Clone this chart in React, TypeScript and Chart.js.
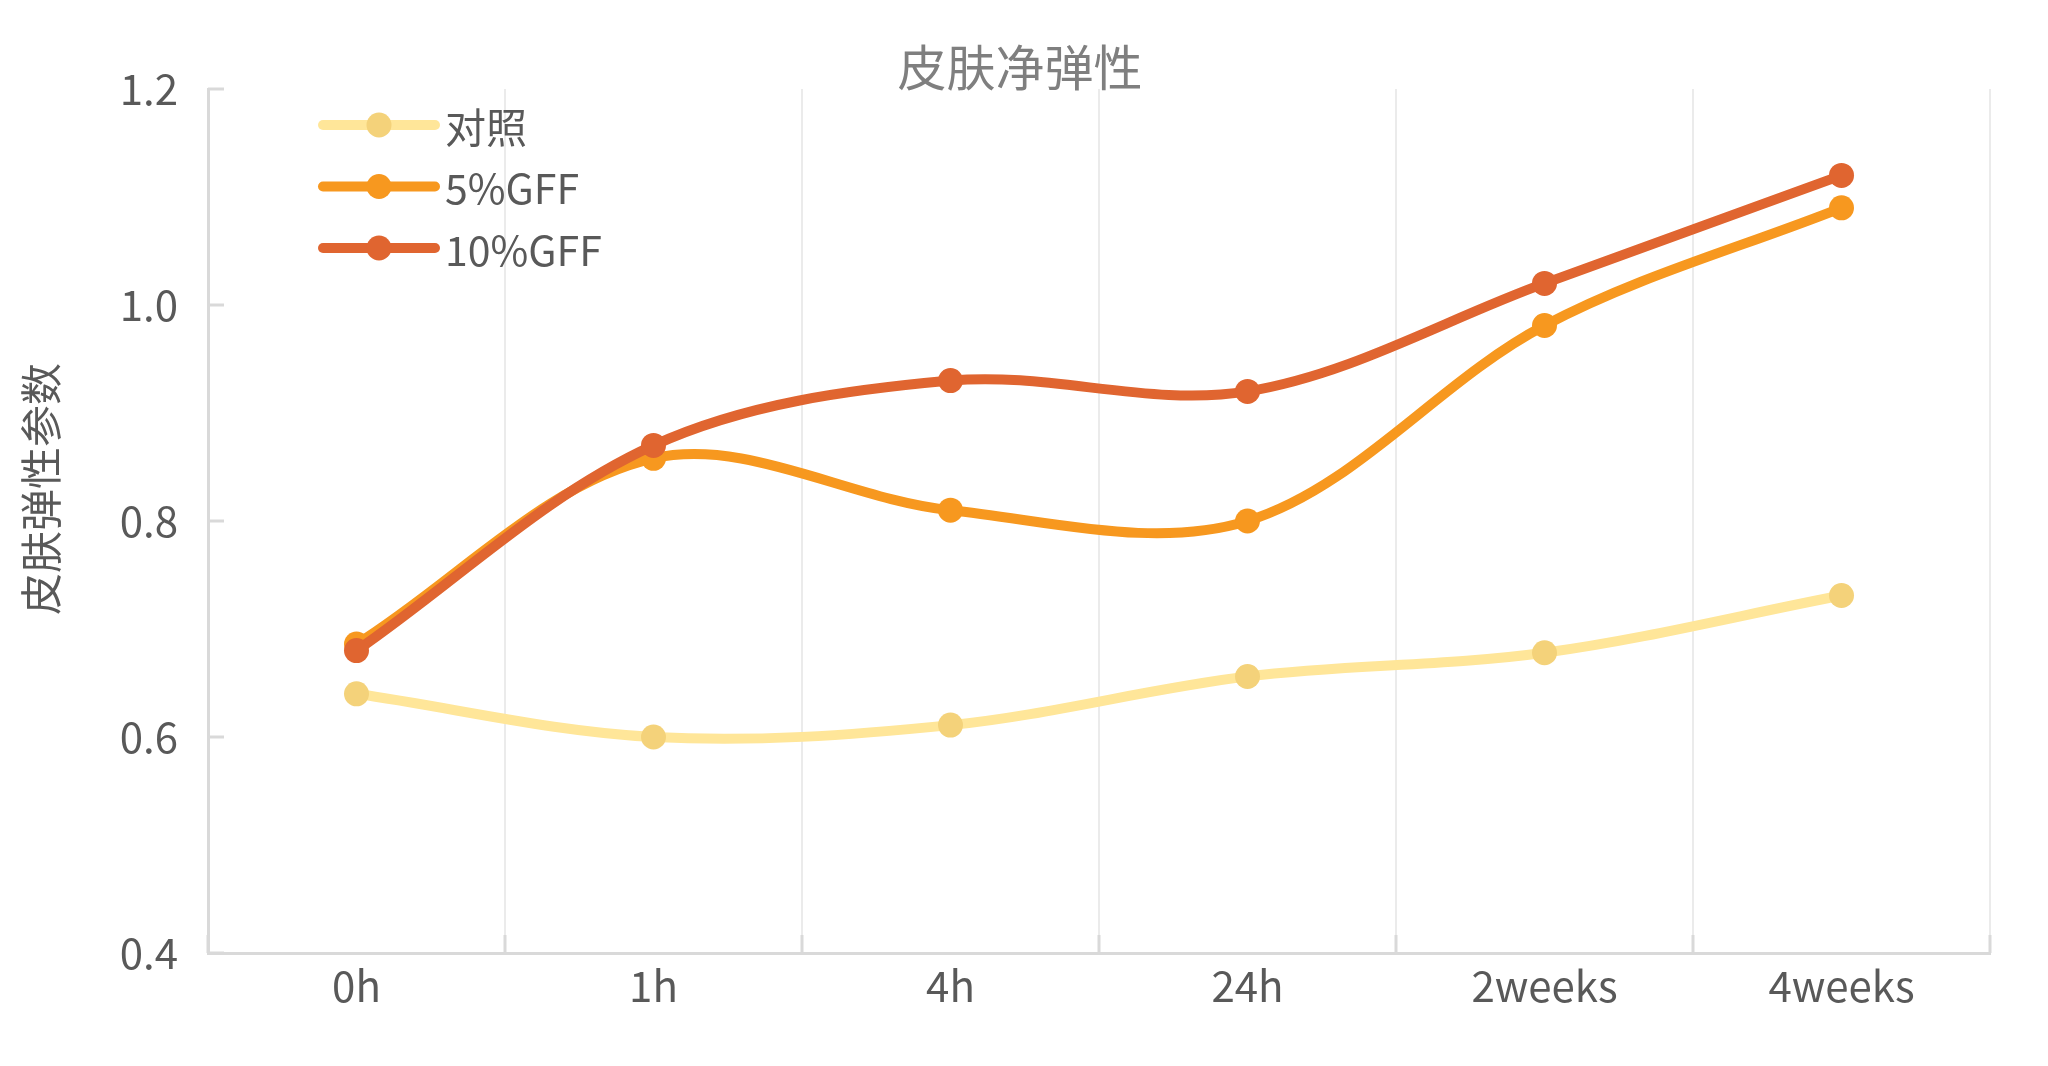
import React, { useEffect, useRef } from "react";
import { Chart, registerables } from "chart.js";

Chart.register(...registerables);

const categories = ["0h", "1h", "4h", "24h", "2weeks", "4weeks"];
const seriesNames = ["对照", "5%GFF", "10%GFF"];
const controlValues = [0.64, 0.6, 0.611, 0.656, 0.678, 0.731];
const gff5Values = [0.686, 0.858, 0.81, 0.8, 0.981, 1.09];
const gff10Values = [0.68, 0.87, 0.93, 0.92, 1.02, 1.12];
const yTickValues = [0.4, 0.6, 0.8, 1.0, 1.2];
const chartTitle = "皮肤净弹性";
const yAxisTitle = "皮肤弹性参数";

const FONT = "'Noto Sans CJK SC', 'Noto Sans', sans-serif";
const TEXT = "#595959";
const AXIS = "#d9d9d9";

const decorPlugin = {
  id: "decor",
  beforeDatasetsDraw(chart: any) {
    const { ctx, chartArea } = chart;
    const xs = chart.scales.x;
    const ys = chart.scales.y;
    ctx.save();
    ctx.strokeStyle = AXIS;
    ctx.lineWidth = 3;
    const p0 = xs.getPixelForValue(0);
    const step = xs.getPixelForValue(1) - p0;
    for (let k = 0; k <= categories.length; k++) {
      const x = p0 - step / 2 + k * step;
      ctx.beginPath();
      ctx.moveTo(x, chartArea.bottom);
      ctx.lineTo(x, chartArea.bottom - 18);
      ctx.stroke();
    }
    yTickValues.forEach((v) => {
      const y = ys.getPixelForValue(v);
      ctx.beginPath();
      ctx.moveTo(chartArea.left, y);
      ctx.lineTo(chartArea.left + 16, y);
      ctx.stroke();
    });
    ctx.restore();
  },
  afterDraw(chart: any) {
    const { ctx, chartArea } = chart;
    ctx.save();
    // title
    ctx.fillStyle = "#7f7f7f";
    ctx.font = `49px ${FONT}`;
    ctx.textAlign = "center";
    ctx.textBaseline = "middle";
    ctx.fillText(chartTitle, 1020, 67);
    // y axis title
    ctx.save();
    ctx.translate(41, 489);
    ctx.rotate(-Math.PI / 2);
    ctx.fillStyle = TEXT;
    ctx.font = `42px ${FONT}`;
    ctx.fillText(yAxisTitle, 0, 0);
    ctx.restore();
    // legend
    chart.data.datasets.forEach((ds: any, i: number) => {
      const y = chartArea.top + 36 + i * 61.5;
      const x0 = chartArea.left + 115;
      const x1 = chartArea.left + 227;
      ctx.strokeStyle = ds.borderColor;
      ctx.lineWidth = 10;
      ctx.lineCap = "round";
      ctx.beginPath();
      ctx.moveTo(x0, y);
      ctx.lineTo(x1, y);
      ctx.stroke();
      ctx.fillStyle = ds.pointBackgroundColor;
      ctx.beginPath();
      ctx.arc((x0 + x1) / 2, y, 12.5, 0, Math.PI * 2);
      ctx.fill();
      ctx.fillStyle = TEXT;
      ctx.font = `41px ${FONT}`;
      ctx.textAlign = "left";
      ctx.textBaseline = "middle";
      ctx.fillText(ds.label, chartArea.left + 237, y + 2);
    });
    ctx.restore();
  },
};

export default function App() {
  const ref = useRef<HTMLCanvasElement | null>(null);
  useEffect(() => {
    if (!ref.current) return;
    const mk = (label: string, data: number[], line: string, point: string, order: number) => ({
      label,
      data,
      borderColor: line,
      backgroundColor: line,
      pointBackgroundColor: point,
      pointBorderWidth: 0,
      pointRadius: 12.5,
      borderWidth: 10,
      tension: 0.34,
      borderCapStyle: "round" as const,
      order,
    });
    const chart = new Chart(ref.current, {
      type: "line",
      data: {
        labels: categories,
        datasets: [
          mk(seriesNames[0], controlValues, "#ffe699", "#f4d27a", 3),
          mk(seriesNames[1], gff5Values, "#f7981f", "#f7981f", 2),
          mk(seriesNames[2], gff10Values, "#e06530", "#e06530", 1),
        ],
      },
      plugins: [decorPlugin],
      options: {
        responsive: false,
        devicePixelRatio: 1,
        animation: false,
        layout: { padding: { top: 89, right: 58, bottom: 0, left: 0 } },
        plugins: {
          legend: { display: false },
          tooltip: { enabled: false },
          title: { display: false },
        },
        scales: {
          x: {
            type: "category",
            offset: true,
            grid: {
              display: true,
              offset: true,
              color: "#ebebeb",
              lineWidth: 2,
              drawTicks: false,
            },
            border: { display: true, color: AXIS, width: 3 },
            ticks: {
              color: TEXT,
              font: { family: FONT, size: 42 },
              padding: 8,
              maxRotation: 0,
              autoSkip: false,
            },
            afterFit: (s: any) => {
              s.height = 113;
              s.paddingLeft = 0;
              s.paddingRight = 0;
            },
          },
          y: {
            min: 0.4,
            max: 1.2,
            grid: { display: true, color: "rgba(0,0,0,0)", drawTicks: false },
            border: { display: true, color: AXIS, width: 3 },
            ticks: {
              color: TEXT,
              font: { family: FONT, size: 42 },
              padding: 30,
              callback: (v: any) => Number(v).toFixed(1),
            },
            afterBuildTicks: (s: any) => {
              s.ticks = yTickValues.map((v) => ({ value: v }));
            },
            afterFit: (s: any) => {
              s.width = 208;
              s.paddingTop = 0;
              s.paddingBottom = 0;
            },
          },
        },
      },
    });
    return () => chart.destroy();
  }, []);
  return (
    <div style={{ position: "fixed", left: 0, top: 0, width: 2048, height: 1066, background: "#fff" }}>
      <canvas ref={ref} width={2048} height={1066} style={{ width: 2048, height: 1066, display: "block" }} />
    </div>
  );
}
